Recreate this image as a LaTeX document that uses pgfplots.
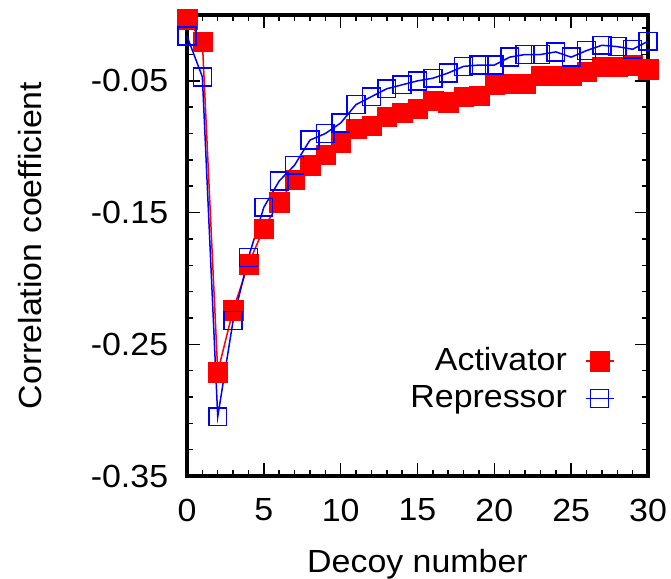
\documentclass[border=0pt]{standalone}
\usepackage{pgfplots}
\pgfplotsset{compat=1.18}
\usepackage{fontspec}
\setmainfont{Liberation Sans}[FakeStretch=1.06]
\usetikzlibrary{calc}
\begin{document}
\fontsize{32}{38}\selectfont
\begin{tikzpicture}
\begin{axis}[
  name=ax,
  scale only axis,
  width=461pt, height=461pt,
  xmin=0, xmax=30, ymin=-0.35, ymax=0,
  clip=false,
  xtick={0,5,10,15,20,25,30},
  xticklabels={0,5,10,15,20,25,30},
  minor xtick={1,2,3,4,6,7,8,9,11,12,13,14,16,17,18,19,21,22,23,24,26,27,28,29},
  ytick={-0.35,-0.25,-0.15,-0.05},
  yticklabels={-0.35,-0.25,-0.15,-0.05},
  minor ytick={-0.33,-0.31,-0.29,-0.27,-0.23,-0.21,-0.19,-0.17,-0.13,-0.11,-0.09,-0.07,-0.03,-0.01},
  tick align=inside,
  major tick length=13pt, minor tick length=6.5pt,
  tick style={black, line width=1.5pt},
  axis line style={line width=3.5pt},
  yticklabel style={xshift=-8pt},
  xticklabel style={yshift=-12pt},
  xlabel={Decoy number},
  ylabel={Correlation coefficient},
  every axis y label/.style={at={(axis description cs:-0.34,0.5)}, rotate=90, anchor=center},
  every axis x label/.style={at={(axis description cs:0.5,-0.2098)}, anchor=base},
  legend cell align=right,
  legend plot pos=right,
  legend style={draw=none, fill=none, at={(axis description cs:0.934,0.209)}, anchor=east, row sep=6pt, column sep=16pt},
  legend image code/.code={\draw[mark repeat=2,mark phase=2] plot coordinates {(0pt,0pt) (14pt,0pt) (28pt,0pt)};},
]
\addplot[red, line width=1.5pt, mark=square*, mark size=9.7pt, mark options={fill=red, draw=red, line width=0.1pt}] coordinates {
(0,-0.003) (1,-0.020) (2,-0.271) (3,-0.224) (4,-0.189) (5,-0.162) (6,-0.142) (7,-0.125) (8,-0.114) (9,-0.106) (10,-0.097)
(11,-0.086) (12,-0.084) (13,-0.077) (14,-0.074) (15,-0.071) (16,-0.065) (17,-0.066) (18,-0.062) (19,-0.061) (20,-0.053)
(21,-0.052) (22,-0.052) (23,-0.046) (24,-0.046) (25,-0.046) (26,-0.043) (27,-0.039) (28,-0.039) (29,-0.038) (30,-0.041)
};
\addlegendentry{Activator}
\addplot[blue, line width=1.5pt, mark=square, mark size=8.9pt, mark options={line width=1.5pt}] coordinates {
(0,-0.016) (1,-0.047) (2,-0.305) (3,-0.232) (4,-0.184) (5,-0.146) (6,-0.126) (7,-0.114) (8,-0.095) (9,-0.090) (10,-0.082)
(11,-0.068) (12,-0.062) (13,-0.056) (14,-0.053) (15,-0.050) (16,-0.048) (17,-0.044) (18,-0.039) (19,-0.038) (20,-0.038)
(21,-0.032) (22,-0.030) (23,-0.030) (24,-0.028) (25,-0.032) (26,-0.027) (27,-0.023) (28,-0.024) (29,-0.026) (30,-0.020)
};
\addlegendentry{Repressor}
\end{axis}
\pgfresetboundingbox
\path ($(ax.south west)+(-187pt,-102pt)$) rectangle ($(ax.north east)+(23pt,15pt)$);
\end{tikzpicture}
\end{document}
